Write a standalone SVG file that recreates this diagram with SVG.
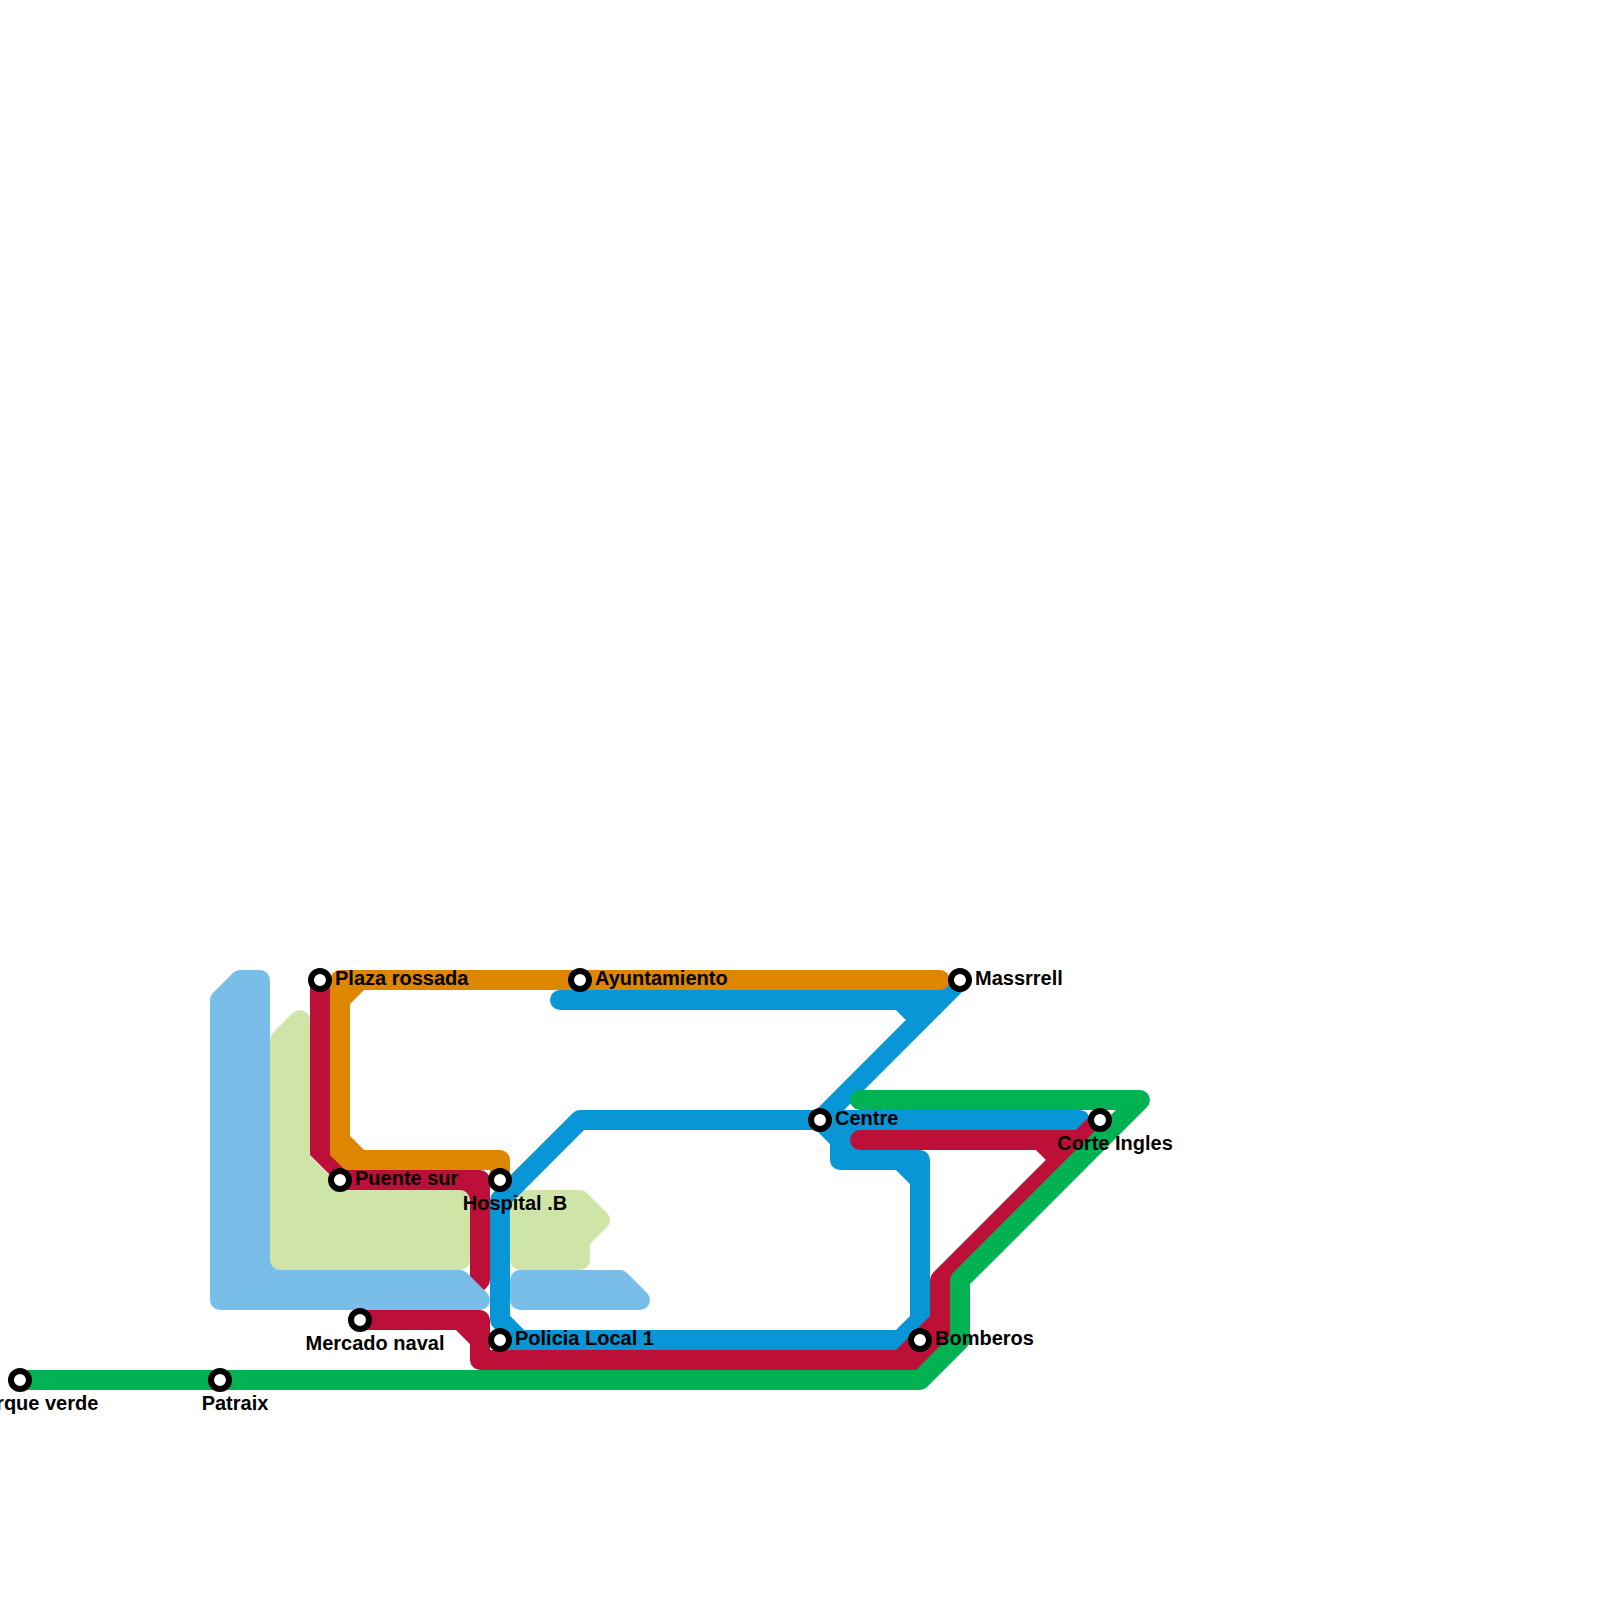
<svg xmlns="http://www.w3.org/2000/svg" width="1600" height="1600" viewBox="0 0 1600 1600">
<style>
.l{fill:none;stroke-width:20;stroke-linecap:round;stroke-linejoin:round}
.a{stroke-width:20;stroke-linejoin:round}
.sky{fill:#79bde9;stroke:#79bde9}
.lime{fill:#cfe4a7;stroke:#cfe4a7}
.blue{stroke:#0896d7}.orange{stroke:#df8600}.red{stroke:#bd1038}.green{stroke:#00b251}
.s{fill:#fff;stroke:#000;stroke-width:6}
text{font-family:"Liberation Sans",Arial,sans-serif;font-weight:700;font-size:20px;fill:#000}
</style>
<rect width="1600" height="1600" fill="#fff"/>
<g id="connectors">
<rect x="265" y="1255" width="15" height="20" fill="#79bde9"/>
<rect x="455" y="1185" width="20" height="20" fill="#bd1038"/>
<path class="a lime" d="M280 1040L300 1020V1160L340 1200H460V1260H280Z"/>
<path class="a lime" d="M520 1200H580L600 1220L580 1240V1260H520Z"/>
<path class="l blue" d="M560 1000H900L920 1020M900 1000H940M960 980L820 1120H580L500 1200V1320L520 1340H900L920 1320V1160H840V1140L820 1120H1080M900 1160L920 1180M500 1340H520M840 1140H880"/>
<path class="l orange" d="M500 1180V1160H360L340 1140V1000L360 980H940M340 1000V980H360M360 1160H340V1140"/>
<path fill="#bd1038" d="M310 980V1155L345 1190H350V1170H345L330 1155V980Z"/>
<path class="l red" d="M350 1180H480V1280L460 1300"/>
<path class="l red" d="M360 1320H460L480 1340V1360H900L940 1320V1280L1100 1120M460 1320H480V1340M900 1360H920L940 1340V1320M860 1140H1040L1060 1160M1040 1140H1080"/>
<path class="a sky" d="M220 1300V1000L240 980H260V1280H460L480 1300Z"/>
<path class="a sky" d="M520 1280H620L640 1300H520Z"/>
<path class="l green" d="M20 1380H920L960 1340V1280L1140 1100H860"/>
</g>
<g id="parque-verde"><circle class="s" cx="20" cy="1380" r="9"/><text x="35" y="1410" text-anchor="middle">Parque verde</text></g>
<g id="patraix"><circle class="s" cx="220" cy="1380" r="9"/><text x="235" y="1410" text-anchor="middle">Patraix</text></g>
<g id="plaza-rossada"><circle class="s" cx="320" cy="980" r="9"/><text x="335" y="985">Plaza rossada</text></g>
<g id="puente-sur"><circle class="s" cx="340" cy="1180" r="9"/><text x="355" y="1185">Puente sur</text></g>
<g id="mercado-naval"><circle class="s" cx="360" cy="1320" r="9"/><text x="375" y="1350" text-anchor="middle">Mercado naval</text></g>
<g id="hospital-b"><circle class="s" cx="500" cy="1180" r="9"/><text x="515" y="1210" text-anchor="middle">Hospital .B</text></g>
<g id="policia-local-1"><circle class="s" cx="500" cy="1340" r="9"/><text x="515" y="1345">Policia Local 1</text></g>
<g id="ayuntamiento"><circle class="s" cx="580" cy="980" r="9"/><text x="595" y="985">Ayuntamiento</text></g>
<g id="massrrell"><circle class="s" cx="960" cy="980" r="9"/><text x="975" y="985">Massrrell</text></g>
<g id="centre"><circle class="s" cx="820" cy="1120" r="9"/><text x="835" y="1125">Centre</text></g>
<g id="bomberos"><circle class="s" cx="920" cy="1340" r="9"/><text x="935" y="1345">Bomberos</text></g>
<g id="corte-ingles"><circle class="s" cx="1100" cy="1120" r="9"/><text x="1115" y="1150" text-anchor="middle">Corte Ingles</text></g>
</svg>
